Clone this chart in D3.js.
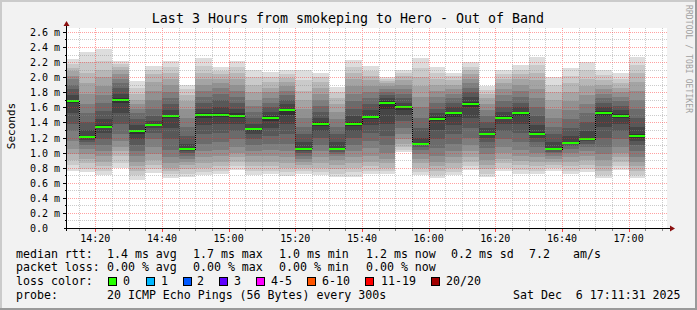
<!DOCTYPE html>
<html><head><meta charset="utf-8">
<script src="https://cdn.jsdelivr.net/npm/d3@7"></script>
<style>html,body{margin:0;padding:0;background:#f2f2f2}svg{display:block}text{font-family:"DejaVu Sans Mono",monospace}</style>
</head><body>
<svg id="chart" width="697" height="310"></svg>
<script>
// ---------------- data ----------------
const title = "Last 3 Hours from smokeping to Hero - Out of Band";
const rangeStart = "2025-12-06T14:11:31Z";
const rangeEnd = "2025-12-06T17:11:31Z";
const firstBarStart = "2025-12-06T14:10:00Z";
const stepSeconds = 300;
// 20 sorted ping RTTs (ms) per 5-minute step
const pings = [
 [0.75,0.83,0.90,0.98,1.05,1.15,1.28,1.38,1.52,1.66,1.70,1.76,1.84,1.90,1.97,2.02,2.08,2.12,2.17,2.24],
 [0.74,0.78,0.86,0.92,0.98,1.05,1.10,1.14,1.17,1.20,1.22,1.30,1.40,1.52,1.65,1.78,1.92,2.05,2.20,2.33],
 [0.70,0.76,0.82,0.88,0.95,1.02,1.10,1.18,1.26,1.32,1.36,1.44,1.55,1.66,1.76,1.88,2.00,2.10,2.22,2.37],
 [0.80,0.86,0.95,1.02,1.08,1.15,1.25,1.38,1.52,1.66,1.72,1.78,1.85,1.92,1.98,2.04,2.09,2.13,2.17,2.22],
 [0.64,0.70,0.76,0.82,0.88,0.95,1.02,1.10,1.18,1.25,1.30,1.36,1.44,1.52,1.58,1.64,1.70,1.78,1.85,1.95],
 [0.73,0.78,0.84,0.90,0.98,1.08,1.18,1.26,1.32,1.36,1.38,1.42,1.48,1.58,1.70,1.82,1.94,2.04,2.10,2.15],
 [0.66,0.72,0.76,0.80,0.86,0.94,1.04,1.18,1.32,1.46,1.50,1.56,1.64,1.72,1.80,1.90,1.98,2.06,2.14,2.21],
 [0.68,0.72,0.78,0.84,0.88,0.92,0.96,0.99,1.02,1.04,1.06,1.12,1.22,1.34,1.46,1.58,1.68,1.76,1.84,1.90],
 [0.70,0.74,0.80,0.86,0.94,1.02,1.12,1.24,1.36,1.46,1.52,1.58,1.66,1.74,1.82,1.90,1.98,2.06,2.15,2.25],
 [0.72,0.76,0.82,0.88,0.96,1.04,1.14,1.26,1.38,1.47,1.52,1.60,1.70,1.78,1.86,1.92,1.98,2.04,2.08,2.13],
 [0.77,0.82,0.88,0.94,1.00,1.08,1.18,1.28,1.38,1.46,1.52,1.58,1.66,1.74,1.82,1.90,1.98,2.06,2.14,2.22],
 [0.70,0.76,0.82,0.88,0.95,1.02,1.10,1.18,1.25,1.29,1.32,1.38,1.46,1.54,1.62,1.70,1.80,1.90,2.00,2.09],
 [0.72,0.76,0.82,0.88,0.96,1.04,1.12,1.22,1.32,1.42,1.48,1.54,1.60,1.66,1.72,1.80,1.86,1.94,2.00,2.07],
 [0.69,0.74,0.80,0.86,0.94,1.02,1.12,1.24,1.38,1.50,1.58,1.64,1.70,1.76,1.82,1.88,1.94,1.99,2.04,2.10],
 [0.72,0.76,0.80,0.84,0.88,0.92,0.96,0.99,1.02,1.04,1.06,1.14,1.24,1.34,1.46,1.58,1.70,1.82,1.96,2.10],
 [0.70,0.74,0.80,0.86,0.94,1.02,1.10,1.20,1.28,1.35,1.40,1.46,1.54,1.62,1.70,1.78,1.86,1.94,2.00,2.06],
 [0.68,0.72,0.78,0.84,0.90,0.95,0.98,1.01,1.03,1.04,1.06,1.14,1.24,1.34,1.44,1.54,1.64,1.72,1.80,1.87],
 [0.68,0.74,0.80,0.86,0.94,1.02,1.10,1.20,1.28,1.35,1.40,1.48,1.58,1.68,1.78,1.88,1.98,2.06,2.14,2.23],
 [0.72,0.76,0.82,0.88,0.96,1.06,1.16,1.26,1.36,1.44,1.49,1.56,1.64,1.72,1.80,1.88,1.96,2.02,2.08,2.15],
 [0.72,0.76,0.80,0.86,0.92,1.00,1.10,1.22,1.38,1.58,1.68,1.72,1.76,1.80,1.84,1.88,1.92,1.95,1.97,2.00],
 [1.01,1.04,1.08,1.12,1.18,1.24,1.32,1.42,1.50,1.57,1.61,1.66,1.72,1.78,1.84,1.90,1.96,2.01,2.05,2.10],
 [0.70,0.74,0.80,0.86,0.92,0.98,1.03,1.07,1.10,1.11,1.13,1.20,1.32,1.46,1.60,1.74,1.88,2.00,2.12,2.25],
 [0.66,0.70,0.76,0.82,0.88,0.96,1.06,1.18,1.30,1.42,1.47,1.52,1.58,1.66,1.74,1.82,1.90,1.98,2.05,2.13],
 [0.70,0.74,0.80,0.86,0.94,1.02,1.12,1.24,1.36,1.47,1.54,1.60,1.66,1.72,1.78,1.84,1.90,1.96,2.01,2.06],
 [0.77,0.82,0.88,0.94,1.02,1.10,1.20,1.32,1.46,1.60,1.67,1.74,1.80,1.86,1.92,1.98,2.04,2.09,2.14,2.20],
 [0.68,0.72,0.78,0.84,0.90,0.98,1.06,1.14,1.20,1.24,1.26,1.32,1.40,1.48,1.56,1.64,1.72,1.78,1.83,1.88],
 [0.75,0.80,0.86,0.92,1.00,1.08,1.18,1.28,1.38,1.44,1.48,1.54,1.60,1.68,1.76,1.84,1.92,1.98,2.04,2.10],
 [0.72,0.77,0.83,0.89,0.96,1.04,1.14,1.26,1.38,1.48,1.54,1.60,1.66,1.74,1.82,1.90,1.98,2.04,2.10,2.16],
 [0.72,0.76,0.82,0.88,0.94,1.00,1.08,1.14,1.20,1.24,1.27,1.36,1.48,1.60,1.72,1.84,1.96,2.06,2.16,2.27],
 [0.76,0.80,0.84,0.88,0.92,0.96,0.99,1.01,1.03,1.04,1.06,1.14,1.24,1.34,1.46,1.58,1.70,1.80,1.90,2.00],
 [0.72,0.76,0.82,0.88,0.94,1.00,1.05,1.09,1.11,1.12,1.14,1.22,1.32,1.44,1.56,1.68,1.80,1.92,2.02,2.12],
 [0.74,0.78,0.84,0.90,0.96,1.02,1.08,1.12,1.15,1.17,1.19,1.28,1.40,1.52,1.64,1.76,1.88,1.98,2.09,2.20],
 [0.66,0.70,0.76,0.82,0.90,0.98,1.08,1.20,1.34,1.48,1.55,1.60,1.66,1.72,1.78,1.84,1.90,1.96,2.03,2.10],
 [0.77,0.82,0.88,0.94,1.00,1.08,1.18,1.28,1.38,1.46,1.51,1.56,1.62,1.68,1.74,1.80,1.86,1.92,1.98,2.05],
 [0.66,0.70,0.76,0.82,0.88,0.94,1.02,1.10,1.16,1.20,1.24,1.34,1.46,1.58,1.70,1.82,1.94,2.06,2.16,2.27]
];
const medians = [1.69,1.21,1.34,1.70,1.28,1.37,1.49,1.05,1.50,1.50,1.49,1.31,1.46,1.56,1.05,1.38,1.05,1.38,1.47,1.66,1.60,1.12,1.45,1.52,1.65,1.25,1.46,1.52,1.25,1.05,1.13,1.18,1.53,1.49,1.22];
const yTickValues = [0,0.2,0.4,0.6,0.8,1.0,1.2,1.4,1.6,1.8,2.0,2.2,2.4,2.6];
const yTickLabels = ["0.0","0.2 m","0.4 m","0.6 m","0.8 m","1.0 m","1.2 m","1.4 m","1.6 m","1.8 m","2.0 m","2.2 m","2.4 m","2.6 m"];
const xTickLabels = ["14:20","14:40","15:00","15:20","15:40","16:00","16:20","16:40","17:00"];
const smokeGreys = [221,202,183,164,145,126,107,88,69,50];
const lossLabels = ["0","1","2","3","4-5","6-10","11-19","20/20"];
const lossColors = ["#26ff00","#00b8ff","#0059ff","#5e00ff","#ff00ff","#ff5500","#ff0000","#a10000"];
const rttStats = ["1.4 ms avg","1.7 ms max","1.0 ms min","1.2 ms now","0.2 ms sd","7.2","am/s"];
const lossStats = ["0.00 % avg","0.00 % max","0.00 % min","0.00 % now"];
const probeText = "20 ICMP Echo Pings (56 Bytes) every 300s";
const stamp = "Sat Dec  6 17:11:31 2025";

// ---------------- layout ----------------
const W=697,H=310, L=67, R=667, T=28, B=228;
const svg=d3.select("#chart");
svg.append("rect").attr("width",W).attr("height",H).attr("fill","#f2f2f2");
svg.append("rect").attr("x",0).attr("y",0).attr("width",W).attr("height",2).attr("fill","#cbcbcb");
svg.append("rect").attr("x",0).attr("y",0).attr("width",2).attr("height",H).attr("fill","#cbcbcb");
svg.append("rect").attr("x",0).attr("y",H-2).attr("width",W).attr("height",2).attr("fill","#9a9a9a");
svg.append("rect").attr("x",W-2).attr("y",0).attr("width",2).attr("height",H).attr("fill","#9a9a9a");

const x=d3.scaleUtc().domain([new Date(rangeStart),new Date(rangeEnd)]).range([L,R]);
const y=d3.scaleLinear().domain([0,(B-T)/75.41]).range([B,T]);

svg.append("rect").attr("x",L).attr("y",T).attr("width",R-L).attr("height",B-T).attr("fill","#fff");

svg.append("clipPath").attr("id","pc").append("rect").attr("x",L).attr("y",T).attr("width",R-L).attr("height",B-T);
const plot=svg.append("g").attr("clip-path","url(#pc)").attr("shape-rendering","crispEdges");

const t0=new Date(firstBarStart).getTime();
const bars=pings.map((p,i)=>({p, med:medians[i], s:new Date(t0+i*stepSeconds*1000), e:new Date(t0+(i+1)*stepSeconds*1000)}));

bars.forEach(b=>{
  const x0=Math.round(x(b.s)), x1=Math.round(x(b.e));
  smokeGreys.forEach((g,k)=>{
    const lo=b.p[k], hi=b.p[19-k];
    plot.append("rect").attr("x",x0).attr("width",x1-x0)
      .attr("y",Math.round(y(hi))).attr("height",Math.max(1,Math.round(y(lo))-Math.round(y(hi))))
      .attr("fill",d3.rgb(g,g,g));
  });
});

// grid drawn as explicit dot paths
let majorDots="", minorDots="", majorTicks="", minorTicks="";
const minorX=d3.utcMinute.every(5).range(new Date(rangeStart),new Date(rangeEnd));
minorX.forEach(d=>{
  const major=d.getUTCMinutes()%20===0;
  const xc=Math.round(x(d));
  let s="";
  for(let yy=T; yy<B; yy+=2) s+=`M${xc},${yy}h1v1h-1Z`;
  if(major){ majorDots+=s; majorTicks+=`M${xc},${B+1}h1v3h-1Z`; }
  else { minorDots+=s; minorTicks+=`M${xc},${B+1}h1v2h-1Z`; }
});
let yTickPath="";
d3.range(1,27).forEach(i=>{
  const v=i/10, major=i%2===0;
  const yc=Math.round(y(v));
  let s="";
  for(let xx=L+1; xx<R; xx+=2) s+=`M${xx},${yc}h1v1h-1Z`;
  if(major) majorDots+=s; else minorDots+=s;
  yTickPath+=`M${major?L-4:L-2},${yc}h${major?4:2}v1h-${major?4:2}Z`;
});
svg.append("path").attr("d",minorDots).attr("fill","#8c8c8c").attr("fill-opacity",0.45).attr("shape-rendering","crispEdges");
svg.append("path").attr("d",majorDots).attr("fill","#ff2020").attr("fill-opacity",0.42).attr("shape-rendering","crispEdges");
svg.append("path").attr("d",minorTicks).attr("fill","#8c8c8c").attr("shape-rendering","crispEdges");
svg.append("path").attr("d",majorTicks).attr("fill","#ff4040").attr("shape-rendering","crispEdges");
svg.append("path").attr("d",yTickPath).attr("fill","#000").attr("shape-rendering","crispEdges");

// median lines
bars.forEach((b,i)=>{
  const x0=Math.max(L,Math.round(x(b.s))), x1=Math.round(x(b.e));
  if(i>0){
    const ym1=Math.round(y(bars[i-1].med)), ym=Math.round(y(b.med));
    let s="";
    for(let yy=Math.min(ym1,ym); yy<=Math.max(ym1,ym); yy+=2) s+=`M${x0},${yy}h1v1h-1Z`;
    plot.append("path").attr("d",s).attr("fill","#000");
  }
  plot.append("rect").attr("x",x0).attr("width",x1-x0).attr("y",Math.round(y(b.med))-1).attr("height",2).attr("fill",lossColors[0]);
});

// axes
const axG=svg.append("g").attr("shape-rendering","crispEdges");
axG.append("rect").attr("x",L-3).attr("y",B).attr("width",R+4-(L-3)).attr("height",1).attr("fill","#000");
axG.append("rect").attr("x",L-1).attr("y",T-3).attr("width",1).attr("height",B+3-(T-3)).attr("fill","#000");
svg.append("path").attr("d",`M${R+3},${B-2.5}L${R+8},${B+0.5}L${R+3},${B+3.5}Z`).attr("fill","#8b1010");
svg.append("path").attr("d",`M${L-3.5},${T-2}L${L-0.5},${T-7}L${L+2.5},${T-2}Z`).attr("fill","#8b1010");

// y labels
yTickValues.forEach((v,i)=>{
  svg.append("text").attr("x",30).attr("y",Math.round(y(v))+3.5).attr("font-size","10px").text(yTickLabels[i]);
});
// x labels
const majorTimes=minorX.filter(d=>d.getUTCMinutes()%20===0);
majorTimes.forEach((d,i)=>{
  svg.append("text").attr("x",x(d)).attr("y",242).attr("text-anchor","middle").attr("font-size","10px").text(xTickLabels[i]);
});

// titles
svg.append("text").attr("x",348).attr("y",23).attr("text-anchor","middle").attr("font-size","13.3px").text(title);
svg.append("text").attr("transform","translate(15,126) rotate(-90)").attr("text-anchor","middle").attr("font-size","11px").text("Seconds");
svg.append("text").attr("transform","translate(686,5) rotate(90)").attr("font-size","8px").attr("fill","#a0a0a0")
  .attr("textLength",108).attr("lengthAdjust","spacing").text("RRDTOOL / TOBI OETIKER");

// legend
const fs="11.6px";
const leg=(tx,xx,yy)=>svg.append("text").attr("x",xx).attr("y",yy).attr("font-size",fs).attr("xml:space","preserve").text(tx);
leg("median rtt:",16,258);
[107,193,279,366,451,529,573].forEach((xx,i)=>leg(rttStats[i],xx,258));
leg("packet loss:",16,271);
[107,193,279,366].forEach((xx,i)=>leg(lossStats[i],xx,271));
leg("loss color:",16,285);
const boxX=[108,146,183,219,256,307,365,431];
const labX=[123,161,197,234,271,322,381,446];
lossLabels.forEach((lb,i)=>{
  svg.append("rect").attr("x",boxX[i]+0.5).attr("y",277.5).attr("width",8).attr("height",8).attr("fill",lossColors[i]).attr("stroke","#000").attr("shape-rendering","crispEdges");
  leg(lb,labX[i],285);
});
leg("probe:",16,299);
leg(probeText,107,299);
leg(stamp,513,299);
</script>
</body></html>
